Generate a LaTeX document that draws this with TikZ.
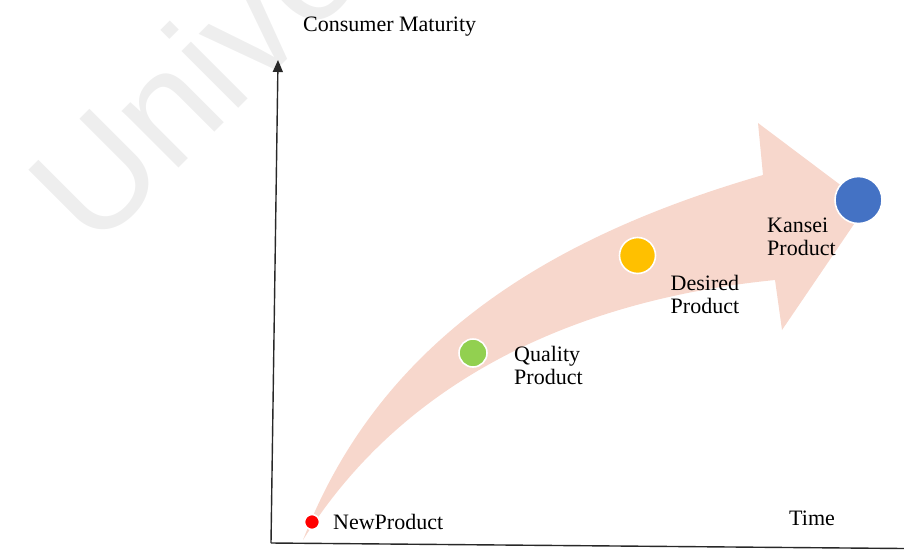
\documentclass[tikz,border=0pt]{standalone}
\usepackage{fontspec}
\setmainfont{Liberation Serif}
\newfontfamily\wmfont{Liberation Sans}
\usetikzlibrary{arrows.meta}
\definecolor{arrowpink}{RGB}{247,215,204}
\definecolor{dotred}{RGB}{255,0,0}
\definecolor{dotgreen}{RGB}{146,208,80}
\definecolor{dotyellow}{RGB}{255,192,0}
\definecolor{dotblue}{RGB}{68,114,196}
\definecolor{axisgray}{RGB}{40,40,40}
\definecolor{wmgray}{RGB}{238,238,238}
\tikzset{
  lbl/.style={inner sep=0pt, font=\fontsize{22}{22.7}\selectfont, align=left},
  dot/.style={circle, draw=white, line width=1.6pt, inner sep=0pt},
  axis/.style={draw=axisgray, line width=1.4pt},
}
\begin{document}
\begin{tikzpicture}[x=1pt,y=-1pt]
\useasboundingbox (0,0) rectangle (904,552);
\clip (0,0) rectangle (904,552);
% watermark
\node[text=wmgray, font=\wmfont\fontsize{152}{152}\selectfont, rotate=45, anchor=base west, inner sep=0pt] (wm) at (94,253) {Unive};
% axes
\coordinate (origin) at (271,543);
\coordinate (ytop) at (278,60);
\coordinate (xend) at (904,548.5);
\draw[axis] (origin) -- (xend);
\draw[axis, -{Triangle[width=10pt,length=12pt]}] (origin) -- (ytop);
% big curved arrow
\fill[arrowpink] (303,540) .. controls (383,332) and (563,233) .. (763,175)
  -- (758,123) -- (867,205) -- (782,330) -- (775,280)
  .. controls (575,300) and (403,380) .. (303,540) -- cycle;
% dots
\node[dot, fill=dotred, minimum size=15pt] (pnew) at (312,522) {};
\node[dot, fill=dotgreen, minimum size=28pt] (pquality) at (473,353) {};
\node[dot, fill=dotyellow, minimum size=36pt] (pdesired) at (637.5,255.5) {};
\node[dot, fill=dotblue, minimum size=47pt] (pkansei) at (858.5,200) {};
% labels
\node[lbl, anchor=base west] (tcm) at (303,31) {Consumer Maturity};
\node[lbl, anchor=base west] (tnew) at (333,529) {NewProduct};
\node[lbl, anchor=base west] (ttime) at (789,525) {Time};
\node[lbl, anchor=north west] (tquality) at (514,346) {Quality\\Product};
\node[lbl, anchor=north west] (tdesired) at (670.5,275) {Desired\\Product};
\node[lbl, anchor=north west] (tkansei) at (767,218) {Kansei\\Product};
\end{tikzpicture}
\end{document}
